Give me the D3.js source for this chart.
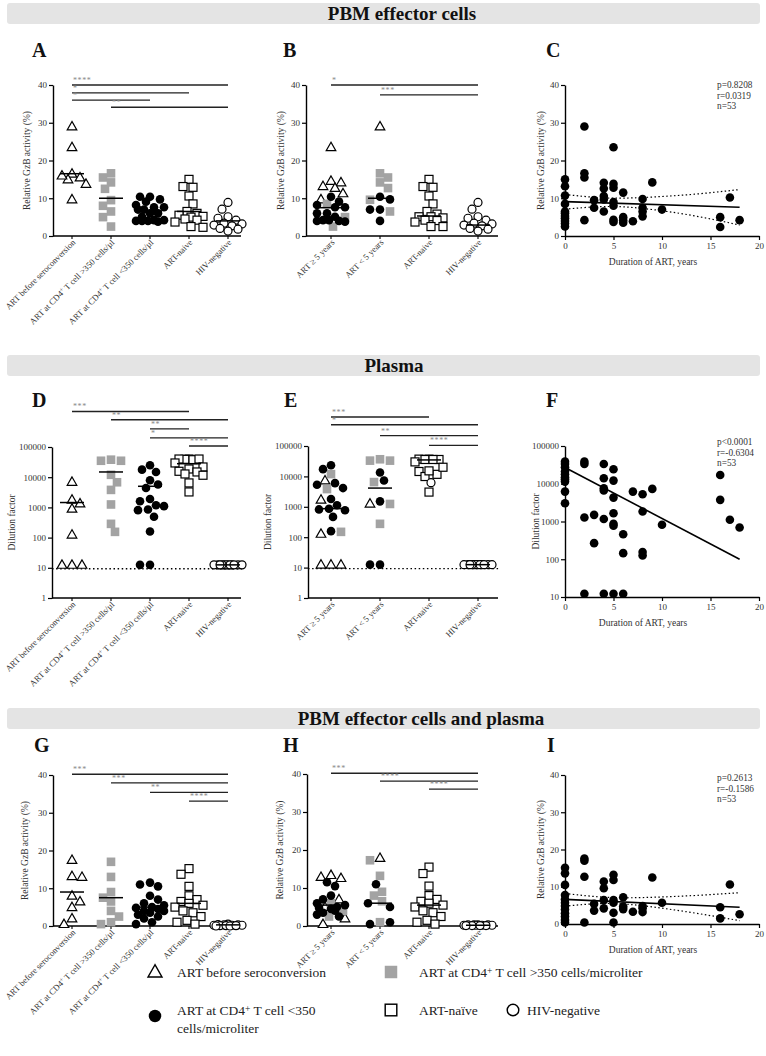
<!DOCTYPE html>
<html><head><meta charset="utf-8">
<script src="https://cdn.jsdelivr.net/npm/d3@7"></script>
<style>body{margin:0;background:#fff} svg{display:block} text{font-family:"Liberation Serif","Times New Roman",serif}</style>
</head><body><svg id="c" width="766" height="1056"></svg>
<script>
// ---------- categories & ticks ----------
const groupCats = ["ART before seroconversion","ART at CD4+ T cell >350 cells/µl","ART at CD4+ T cell <350 cells/µl","ART-naive","HIV-negative"];
const durCats = ["ART ≥ 5 years","ART < 5 years","ART-naive","HIV-negative"];
const gzbTicks = [0,10,20,30,40];
const dilTicks = [1,10,100,1000,10000,100000];
const dilTicksF = [10,100,1000,10000,100000];
const yearTicks = [0,5,10,15,20];

// ---------- Panel A ----------
const A_tri = [29,23.5,16.5,15.5,15,16,13.8,9.7];
const A_gray = [16.6,15.5,14.2,12.5,9.5,8,6.5,5,2.5];
const A_dot = [10.4,9.1,7.6,7.6,8.2,6,6,5.1,4.2,4,3.8,4.2,4,9.7,10.4,7,7,4];
const A_sq = [15,13.1,12.9,10.6,8.5,6.5,6,5.5,5.2,5,4.5,4.2,3.7,2.5,2.3];
const A_circ = [8.9,7.1,5.1,4.7,4.2,3.4,3.2,2.9,2.7,2,1.8,1.3];
const A_means = [16.5,10,6.5,6.5,4];
const A_sig = [[0,4,"****",40],[0,3,"*",37.9],[0,2,"*",36],[1,4,"**",34.1]];

// ---------- Panel B ----------
const B_c1_tri = [23.5,14.6,14.2,13.2,12.7,11.3,9.7];
const B_c1_gray = [8.5,5,2.5];
const B_c1_dot = [10.4,9.1,7.6,7.6,8.2,6,6,5.1,4.2,4,3.8,4.2,4];
const B_c2_tri = [29];
const B_c2_gray = [16.6,15.5,14.2,12.7,9.6,6.5];
const B_c2_dot = [9.7,10.4,7,7,4];
const B_sq = [15,13.1,12.9,10.6,8.5,6.5,5.8,5.1,5.1,4.8,4.2,4.1,3.7,2.5,2.5];
const B_circ = [8.9,7.1,5.1,4.7,4.2,3.4,3.2,2.9,2.7,2,1.8,1.3];
const B_means = [7.5,10,5.3,2.9];
const B_sig = [[0,3,"*",40],[1,3,"***",37.4]];

// ---------- Panel C ----------
const C_years = [0,0,0,0,0,0,0,0,0,0,0,2,2,2,2,3,3,4,4,4,4,4,5,5,5,5,5,5,5,6,6,6,6,7,8,8,8,8,9,10,16,16,17,18];
const C_vals = [15,13.2,10.7,8.5,6.5,6,5.3,4.7,4,3.3,2.5,29,16.6,15.5,4.2,9.5,7.5,14.1,12.6,10.6,9.7,6.5,23.5,13.8,12.8,9,8,4.3,3.7,11.5,5,4.2,3.5,3.9,9.8,7.5,6.5,5.2,14.2,7,5,2.4,10.2,4.2];
const C_fit = [[0,9.1],[18,7.6]];
const C_hi = [[0,11],[4,10.1],[8,10.2],[13,11],[18,12.3]];
const C_lo = [[0,7.1],[4,7.8],[8,7.3],[13,5.5],[18,2.9]];
const C_stats = ["p=0.8208","r=0.0319","n=53"];

// ---------- Panel D ----------
const D_tri = [7000,1800,1350,900,125,12.5,12.5,12.5];
const D_gray = [38000,35000,35000,12000,6800,3800,1250,285,155];
const D_dot = [25000,17800,14900,7900,5700,4400,1900,1600,1100,1180,810,850,490,160,12.5,12.5];
const D_sq = [40000,39000,40000,38000,40000,29600,21800,18700,15700,14900,12800,11600,6460,3250];
const D_circ = [12.5,12.5,12.5,12.5,12.5,12.5,12.5,12.5,12.5,12.5,12.5,12.5];
const D_means = [1450,14900,5000,28000,12.5];
const D_sig = [[0,3,"***",1.5e6],[1,4,"**",8e5],[2,3,"**",4e5],[2,4,"*",2e5],[3,4,"****",1.08e5]];

// ---------- Panel E ----------
const E_c1_tri = [7350,1715,129,12.5,12.5,12.5];
const E_c1_gray = [11900,3830,150];
const E_c1_dot = [17300,23300,5300,4130,6000,1800,1120,770,860,820,466,158];
const E_c2_tri = [1270];
const E_c2_gray = [33000,33000,36600,6500,1240,275];
const E_c2_dot = [13400,7350,1510,12.5,12.5];
const E_sq = [37000,36000,37000,36000,36000,30000,14500,11700,9900,15200,20000,3050];
const E_c3_circ = [6200];
const E_circ = [12.5,12.5,12.5,12.5,12.5,12.5,12.5,12.5,12.5,12.5,12.5,12.5];
const E_means = [870,4130,34800,12.5];
const E_sig = [[0,2,"***",9e5],[0,3,"*",5e5],[1,3,"**",2.2e5],[2,3,"****",1.05e5]];

// ---------- Panel F ----------
const F_years = [0,0,0,0,0,0,0,0,0,0,2,2,2,2,3,3,4,4,4,4,4,4,5,5,5,5,5,5,5,6,6,6,7,8,8,8,8,9,10,16,16,17,18];
const F_vals = [38500,33400,27300,21000,17800,14800,13200,11400,6200,3050,38500,33400,1280,12.2,1500,267,33400,14000,7600,6600,1170,12.2,24200,12100,4300,1660,870,770,12.2,460,145,12.2,6200,5270,1835,155,126,7300,817,17100,3740,1110,693];
const F_fit = [[0,27000],[18,100]];
const F_stats = ["p<0.0001","r=-0.6304","n=53"];

// ---------- Panel G ----------
const G_tri = [17.5,13.2,13,8,6.5,5,2,0.5];
const G_gray = [17,13,9,7.5,6.5,4,2.5,1,0.5];
const G_dot = [11.5,11,10.5,8,7,6,5.5,5,4.8,4.5,4,4,3.5,3,2.5,2,1,0.5];
const G_sq = [15.2,13.7,10.5,8,7,6.5,6,5.5,5,4,3.5,2.5,1.5,1,0.5];
const G_circ = [0.5,0.4,0.3,0.3,0.2,0.2,0.1,0.1,0,0,0.2,0.1];
const G_means = [9,7.5,5,6,0.3];
const G_sig = [[0,4,"***",40.2],[1,4,"***",37.9],[2,4,"**",35.4],[3,4,"****",33.1]];

// ---------- Panel H ----------
const H_c1_tri = [13.4,12.9,12.6,7,5,2,0.5];
const H_c1_gray = [6,4,2.5];
const H_c1_dot = [11.5,10.5,8,7,6,5.5,5,4.8,4.5,4,3.5,3,2.5];
const H_c2_tri = [17.9];
const H_c2_gray = [17.3,13.2,9,8,6.5,1];
const H_c2_dot = [11,6,5,1,0.5];
const H_sq = [15.5,13.8,10.5,8,7,6.5,6,5.5,5,4,3.5,2.5,1.5,1,0.5];
const H_circ = [0.3,0.3,0.3,0.3,0.2,0.2,0.2,0.2,0.1,0.1,0.1,0.1];
const H_means = [5.5,6,5.5,0.2];
const H_sig = [[0,3,"***",40.2],[1,3,"****",38.1],[2,3,"****",36]];

// ---------- Panel I ----------
const I_years = [0,0,0,0,0,0,0,0,0,0,0,0,2,2,2,2,3,3,4,4,4,4,5,5,5,5,5,5,6,6,6,7,8,8,8,9,10,16,16,17,18];
const I_vals = [15.1,13.6,10.5,7.8,6.6,5.7,4.8,3.9,2.9,2.0,1.1,0.4,17.6,17.0,12.7,0.4,5.4,3.6,11.4,9.6,6.4,4.2,13.2,11.8,6.4,5.7,3.0,0.4,7.2,4.7,4.0,3.3,4.8,4.2,3.2,12.5,5.7,4.5,1.5,10.6,2.6];
const I_fit = [[0,6.6],[18,4.5]];
const I_hi = [[0,8.2],[4,7.2],[8,7.1],[13,7.6],[18,8.4]];
const I_lo = [[0,4.8],[4,5.5],[8,4.9],[13,3.1],[18,0.9]];
const I_stats = ["p=0.2613","r=-0.1586","n=53"];

// ---------- legend ----------
const legendItems = [
  ["tri","ART before seroconversion"],
  ["gray","ART at CD4+ T cell >350 cells/microliter"],
  ["dot","ART at CD4+ T cell <350|cells/microliter"],
  ["sq","ART-naïve"],
  ["circ","HIV-negative"]
];

// =====================================================
const FONT = "'Liberation Serif','Times New Roman',serif";
const svg = d3.select("#c");

function header(y, label, cx){
  svg.append("rect").attr("x",7).attr("y",y).attr("width",753).attr("height",21).attr("rx",3).attr("fill","#e4e4e4");
  svg.append("text").attr("x",cx).attr("y",y+16.5).attr("text-anchor","middle").attr("font-size",19).attr("font-weight","bold").attr("fill","#111").text(label);
}
function letter(x,y,t){ svg.append("text").attr("x",x).attr("y",y).attr("font-size",20).attr("font-weight","bold").attr("fill","#111").text(t); }

function supText(sel, label){
  const parts = label.split("+");
  if(parts.length===1){ sel.text(label); return; }
  sel.append("tspan").text(parts[0]);
  sel.append("tspan").attr("dy",-3).attr("font-size","70%").text("+");
  sel.append("tspan").attr("dy",3).text(parts[1]);
}

function drawShape(g, shape, x, y, s){
  s = s || 1;
  if(shape==="dot") g.append("circle").attr("cx",x).attr("cy",y).attr("r",4.3*s).attr("fill","#000");
  else if(shape==="circ") g.append("circle").attr("cx",x).attr("cy",y).attr("r",4*s).attr("fill","#fff").attr("stroke","#000").attr("stroke-width",1.2*Math.sqrt(s));
  else if(shape==="sq") g.append("rect").attr("x",x-4*s).attr("y",y-4*s).attr("width",8*s).attr("height",8*s).attr("fill","#fff").attr("stroke","#000").attr("stroke-width",1.2*Math.sqrt(s));
  else if(shape==="gray") g.append("rect").attr("x",x-4.3*s).attr("y",y-4.3*s).attr("width",8.6*s).attr("height",8.6*s).attr("fill","#a3a3a3");
  else if(shape==="tri") g.append("path").attr("d",`M${x},${y-5*s}L${x-4.8*s},${y+3.4*s}L${x+4.8*s},${y+3.4*s}Z`).attr("fill","#fff").attr("stroke","#000").attr("stroke-width",1.2*Math.sqrt(s)).attr("stroke-linejoin","miter");
}

function swarm(items, maxHalf, dist){
  const sorted = items.slice().sort((a,b)=>a.py-b.py);
  const placed = [];
  sorted.forEach((d,k)=>{
    const cands=[0];
    for(let o=2;o<=maxHalf;o+=2){ if(k%2){cands.push(-o,o);} else {cands.push(o,-o);} }
    let best=0, bestScore=-1, found=false;
    for(const o of cands){
      let minD=Infinity;
      for(const p of placed){ const dd=Math.hypot(o-p.off, d.py-p.py); if(dd<minD) minD=dd; }
      if(minD>=dist){ best=o; found=true; break; }
      if(minD>bestScore){ bestScore=minD; best=o; }
    }
    d.off=best; placed.push(d);
  });
}

function yAxis(g, y, x0, ticks, fmt){
  const ax = d3.axisLeft(y).tickValues(ticks).tickSize(4).tickSizeOuter(0).tickPadding(2).tickFormat(fmt);
  const a = g.append("g").attr("transform",`translate(${x0},0)`).call(ax);
  a.select(".domain").attr("stroke","#000").attr("stroke-width",1.4);
  a.selectAll(".tick line").attr("stroke","#000").attr("stroke-width",1.2);
  a.selectAll(".tick text").attr("font-family",FONT).attr("font-size",9).attr("fill","#333");
}
function yLabel(g, x, cy, t){
  g.append("text").attr("transform",`translate(${x},${cy}) rotate(-90)`).attr("text-anchor","middle").attr("font-size",9.5).attr("fill","#333").text(t);
}

function catPanel(o){
  const g = svg.append("g");
  const y = (o.log ? d3.scaleLog() : d3.scaleLinear()).domain(o.dom).range([o.bot,o.top]);
  const x = d3.scalePoint().domain(o.cats).range(o.catRange);
  if(o.dotted!==undefined){
    g.append("line").attr("x1",o.x0).attr("x2",o.x1+2).attr("y1",y(o.dotted)).attr("y2",y(o.dotted))
      .attr("stroke","#000").attr("stroke-width",1.3).attr("stroke-dasharray","1.5,2.6");
  }
  g.append("line").attr("x1",o.x0).attr("x2",o.x1).attr("y1",o.bot).attr("y2",o.bot).attr("stroke","#000").attr("stroke-width",1.4);
  o.cats.forEach(c=>{
    const cx=x(c);
    g.append("line").attr("x1",cx).attr("x2",cx).attr("y1",o.bot).attr("y2",o.bot+3).attr("stroke","#000").attr("stroke-width",1.1);
    const t=g.append("text").attr("transform",`translate(${cx+4},${o.bot+7}) rotate(-45)`).attr("text-anchor","end").attr("font-size",8.6).attr("fill","#333");
    supText(t,c);
  });
  yAxis(g,y,o.x0,o.ticks,o.fmt);
  yLabel(g,o.ylx,(o.top+o.bot)/2,o.ylab);
  o.cats.forEach((c,i)=>{
    const items=[];
    o.groups.filter(gr=>gr[0]===i).forEach(gr=>gr[2].forEach(v=>items.push({v:v,shape:gr[1],py:y(v)})));
    swarm(items,o.maxHalf,8.6);
    items.forEach(d=>drawShape(g,d.shape,x(c)+d.off,d.py));
  });
  o.means.forEach((m,i)=>{
    const cx=x(o.cats[i]);
    g.append("line").attr("x1",cx-12).attr("x2",cx+12).attr("y1",y(m)).attr("y2",y(m)).attr("stroke","#000").attr("stroke-width",1.5);
  });
  o.sig.forEach(([a,b,lab,lev])=>{
    const yy=y(lev), xa=x(o.cats[a]), xb=x(o.cats[b]);
    g.append("line").attr("x1",xa).attr("x2",xb).attr("y1",yy).attr("y2",yy).attr("stroke","#222").attr("stroke-width",1.3);
    g.append("text").attr("x",xa+1).attr("y",yy-2).attr("font-size",8).attr("fill","#888").attr("letter-spacing",0.6).text(lab);
  });
}

function scatPanel(o){
  const g = svg.append("g");
  const x = d3.scaleLinear().domain([0,20]).range([o.x0,o.x1]);
  const y = (o.log ? d3.scaleLog() : d3.scaleLinear()).domain(o.dom).range([o.bot,o.top]);
  const ax = d3.axisBottom(x).tickValues(yearTicks).tickSize(4).tickSizeOuter(0).tickPadding(3);
  const a = g.append("g").attr("transform",`translate(0,${o.bot})`).call(ax);
  a.select(".domain").attr("stroke","#000").attr("stroke-width",1.4);
  a.selectAll(".tick line").attr("stroke","#000").attr("stroke-width",1.2);
  a.selectAll(".tick text").attr("font-family",FONT).attr("font-size",9).attr("fill","#333");
  yAxis(g,y,o.x0,o.ticks,o.fmt);
  yLabel(g,o.ylx,(o.top+o.bot)/2,o.ylab);
  g.append("text").attr("x",o.xlx).attr("y",o.bot+29).attr("text-anchor","middle").attr("font-size",9.5).attr("fill","#333").text("Duration of ART, years");
  o.years.forEach((yr,i)=>drawShape(g,"dot",x(yr),y(o.vals[i])));
  const line = d3.line().x(d=>x(d[0])).y(d=>y(d[1]));
  g.append("path").attr("d",line(o.fit)).attr("fill","none").attr("stroke","#000").attr("stroke-width",1.6);
  if(o.hi){
    const cl = d3.line().x(d=>x(d[0])).y(d=>y(d[1])).curve(d3.curveNatural);
    [o.hi,o.lo].forEach(b=>g.append("path").attr("d",cl(b)).attr("fill","none").attr("stroke","#000").attr("stroke-width",1.2).attr("stroke-dasharray","1.5,2.4"));
  }
  o.stats.forEach((s,i)=>g.append("text").attr("x",717).attr("y",o.sy+i*10.7).attr("font-size",9.3).attr("fill","#333").text(s));
}

// headers & letters
header(3,"PBM effector cells",402);
header(355,"Plasma",394);
header(708,"PBM effector cells and plasma",421);
letter(32,57,"A"); letter(283,57,"B"); letter(546,57,"C");
letter(32,407,"D"); letter(284,407,"E"); letter(546,407,"F");
letter(34,752,"G"); letter(283,752,"H"); letter(547,752,"I");

const fmtD = d3.format("d");
const gzLab = "Relative GzB activity (%)";

catPanel({x0:53,x1:241,top:85,bot:236,dom:[0,40],cats:groupCats,catRange:[72,228],ticks:gzbTicks,fmt:fmtD,ylx:30,ylab:gzLab,maxHalf:15,
  groups:[[0,"tri",A_tri],[1,"gray",A_gray],[2,"dot",A_dot],[3,"sq",A_sq],[4,"circ",A_circ]],means:A_means,sig:A_sig});
catPanel({x0:306,x1:498,top:85,bot:236,dom:[0,40],cats:durCats,catRange:[331,478],ticks:gzbTicks,fmt:fmtD,ylx:284,ylab:gzLab,maxHalf:15,
  groups:[[0,"tri",B_c1_tri],[0,"gray",B_c1_gray],[0,"dot",B_c1_dot],[1,"tri",B_c2_tri],[1,"gray",B_c2_gray],[1,"dot",B_c2_dot],[2,"sq",B_sq],[3,"circ",B_circ]],means:B_means,sig:B_sig});
scatPanel({x0:565,x1:759,top:85,bot:236,dom:[0,40],ticks:gzbTicks,fmt:fmtD,ylx:544,ylab:gzLab,xlx:653,years:C_years,vals:C_vals,fit:C_fit,hi:C_hi,lo:C_lo,stats:C_stats,sy:88});

catPanel({x0:52,x1:241,top:447,bot:598,log:true,dom:[1,1e5],cats:groupCats,catRange:[72,228],ticks:dilTicks,fmt:fmtD,ylx:15,ylab:"Dilution factor",maxHalf:15,dotted:9.3,
  groups:[[0,"tri",D_tri],[1,"gray",D_gray],[2,"dot",D_dot],[3,"sq",D_sq],[4,"circ",D_circ]],means:D_means,sig:D_sig});
catPanel({x0:308,x1:498,top:446,bot:598,log:true,dom:[1,1e5],cats:durCats,catRange:[331,478],ticks:dilTicks,fmt:fmtD,ylx:271,ylab:"Dilution factor",maxHalf:15,dotted:9.3,
  groups:[[0,"tri",E_c1_tri],[0,"gray",E_c1_gray],[0,"dot",E_c1_dot],[1,"tri",E_c2_tri],[1,"gray",E_c2_gray],[1,"dot",E_c2_dot],[2,"sq",E_sq],[2,"circ",E_c3_circ],[3,"circ",E_circ]],means:E_means,sig:E_sig});
scatPanel({x0:565,x1:759,top:446,bot:597,log:true,dom:[10,1e5],ticks:dilTicksF,fmt:fmtD,ylx:539,ylab:"Dilution factor",xlx:643,years:F_years,vals:F_vals,fit:F_fit,stats:F_stats,sy:445});

catPanel({x0:53,x1:241,top:775,bot:926,dom:[0,40],cats:groupCats,catRange:[72,228],ticks:gzbTicks,fmt:fmtD,ylx:28,ylab:gzLab,maxHalf:15,
  groups:[[0,"tri",G_tri],[1,"gray",G_gray],[2,"dot",G_dot],[3,"sq",G_sq],[4,"circ",G_circ]],means:G_means,sig:G_sig});
catPanel({x0:307,x1:498,top:774,bot:926,dom:[0,40],cats:durCats,catRange:[331,478],ticks:gzbTicks,fmt:fmtD,ylx:283,ylab:gzLab,maxHalf:15,
  groups:[[0,"tri",H_c1_tri],[0,"gray",H_c1_gray],[0,"dot",H_c1_dot],[1,"tri",H_c2_tri],[1,"gray",H_c2_gray],[1,"dot",H_c2_dot],[2,"sq",H_sq],[3,"circ",H_circ]],means:H_means,sig:H_sig});
scatPanel({x0:565,x1:759,top:775,bot:924,dom:[0,40],ticks:gzbTicks,fmt:fmtD,ylx:544,ylab:gzLab,xlx:653,years:I_years,vals:I_vals,fit:I_fit,hi:I_hi,lo:I_lo,stats:I_stats,sy:781});

// legend
const lg = svg.append("g");
const legPos = [[155,177,972],[391,419,972],[155,177,1010],[391,419,1010],[513,527,1010]];
legendItems.forEach(([shape,label],i)=>{
  const [sx,tx,ly]=legPos[i];
  drawShape(lg,shape,sx,shape==="dot"?ly+6:ly,1.45);
  const lines = label.split("|");
  lines.forEach((ln,j)=>{
    const t=lg.append("text").attr("x",tx).attr("y",ly+5+j*18).attr("font-size",13.5).attr("fill","#222");
    supText(t,ln);
  });
});
</script></body></html>
